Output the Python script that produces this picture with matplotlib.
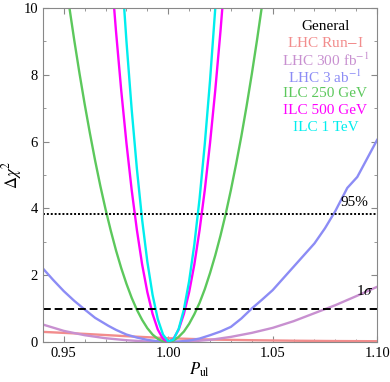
import matplotlib
matplotlib.use("Agg")
import matplotlib.pyplot as plt
from matplotlib.ticker import MultipleLocator

plt.rcParams['font.family'] = ['Liberation Serif', 'DejaVu Serif']
plt.rcParams['mathtext.fontset'] = 'stix'

# ---- data ----
run1_x = [0.94, 0.96, 0.98, 1.00, 1.02, 1.04, 1.06, 1.08, 1.10]
run1_y = [0.30, 0.24, 0.17, 0.11, 0.07, 0.05, 0.035, 0.025, 0.02]

lhc300_x = [0.94, 0.95, 0.96, 0.97, 0.98, 0.99, 1.00, 1.01, 1.02, 1.03, 1.04, 1.05, 1.06, 1.07, 1.08, 1.09, 1.10]
lhc300_y = [0.52, 0.33, 0.20, 0.11, 0.05, 0.01, 0.0, 0.01, 0.06, 0.15, 0.27, 0.42, 0.62, 0.86, 1.10, 1.37, 1.65]

lhc3_x = [0.94, 0.945, 0.95, 0.955, 0.96, 0.965, 0.9714, 0.975, 0.98, 0.985, 0.99, 0.995, 1.00,
          1.005, 1.01, 1.015, 1.02, 1.025, 1.03, 1.035, 1.04, 1.045, 1.05, 1.055, 1.06,
          1.065, 1.07, 1.075, 1.08, 1.0857, 1.0905, 1.10]
lhc3_y = [2.20, 1.85, 1.52, 1.23, 0.97, 0.72, 0.48, 0.36, 0.22, 0.13, 0.06, 0.02, 0.0,
          0.01, 0.04, 0.10, 0.20, 0.31, 0.45, 0.70, 1.00, 1.27, 1.55, 1.90, 2.25,
          2.60, 2.95, 3.40, 3.92, 4.61, 4.94, 6.05]

ilc250_x = [0.95, 0.9525, 0.955, 0.9575, 0.96, 0.9625, 0.965, 0.9675, 0.97, 0.9725, 0.975,
            0.9775, 0.98, 0.9825, 0.985, 0.9875, 0.99, 0.9925, 0.995, 0.9975, 1.0,
            1.0025, 1.005, 1.0075, 1.01, 1.0125, 1.015, 1.0175, 1.02, 1.0225, 1.025,
            1.0275, 1.03, 1.0325, 1.035, 1.0375, 1.04, 1.0425, 1.045, 1.0475, 1.05]
ilc250_y = [11.19, 10.09, 9.04, 8.05, 7.12, 6.25, 5.43, 4.67, 3.97, 3.33, 2.74,
            2.21, 1.74, 1.32, 0.96, 0.66, 0.41, 0.22, 0.09, 0.02, 0.0,
            0.04, 0.15, 0.31, 0.54, 0.83, 1.17, 1.58, 2.06, 2.59, 3.18,
            3.83, 4.55, 5.33, 6.16, 7.06, 8.02, 9.04, 10.12, 11.27, 12.47]

ilc500_x = [0.9725, 0.975, 0.9775, 0.98, 0.9825, 0.985, 0.9875, 0.99, 0.9925, 0.995, 0.9975, 1.0,
            1.0025, 1.005, 1.0075, 1.01, 1.0125, 1.015, 1.0175, 1.02, 1.0225, 1.025, 1.0275]
ilc500_y = [11.25, 9.30, 7.53, 5.95, 4.55, 3.35, 2.32, 1.49, 0.84, 0.37, 0.09, 0.0,
            0.09, 0.37, 0.84, 1.49, 2.32, 3.35, 4.55, 5.95, 7.53, 9.30, 11.25]

ilc1t_x = [0.9775, 0.98, 0.9825, 0.985, 0.9875, 0.99, 0.9925, 0.995, 0.9975, 1.0,
           1.0025, 1.005, 1.0075, 1.01, 1.0125, 1.015, 1.0175, 1.02, 1.0225, 1.025]
ilc1t_y = [11.30, 9.00, 6.96, 5.18, 3.66, 2.40, 1.41, 0.68, 0.22, 0.01,
           0.07, 0.39, 0.97, 1.82, 2.92, 4.29, 5.93, 7.82, 9.98, 12.40]

labels = ["LHC Run$-$I", "LHC 300 fb$^{-1}$", "LHC 3 ab$^{-1}$",
          "ILC 250 GeV", "ILC 500 GeV", "ILC 1 TeV"]
colors = ["#F28C8C", "#C890D0", "#8C8CF5", "#5CC85C", "#FF00FF", "#00EEEE"]

one_sigma = 1.0
cl95 = 3.84

# ---- figure ----
fig = plt.figure(figsize=(3.90, 3.82), dpi=100)
ax = fig.add_axes([0.110, 0.105, 0.857, 0.874])

series = [(run1_x, run1_y), (lhc300_x, lhc300_y), (lhc3_x, lhc3_y),
          (ilc250_x, ilc250_y), (ilc500_x, ilc500_y), (ilc1t_x, ilc1t_y)]
for (xs, ys), c in zip(series, colors):
    ax.plot(xs, ys, color=c, lw=1.7)

ax.axhline(cl95, color='black', lw=1.4, ls=(0, (1.0, 1.0)))
ax.axhline(one_sigma, color='black', lw=1.4, ls=(0, (4, 2)))

ax.set_xlim(0.94, 1.10)
ax.set_ylim(0, 10)
ax.xaxis.set_major_locator(MultipleLocator(0.05))
ax.xaxis.set_minor_locator(MultipleLocator(0.01))
ax.yaxis.set_major_locator(MultipleLocator(2))
ax.yaxis.set_minor_locator(MultipleLocator(1))
ax.set_xticks([0.95, 1.00, 1.05, 1.10])
ax.set_xticklabels(["0.95", "1.00", "1.05", "1.10"])
ax.tick_params(which='both', direction='in', top=True, right=True,
               color='#888888', labelsize=10.5)
ax.tick_params(which='major', length=4)
ax.tick_params(which='minor', length=2)
for s in ax.spines.values():
    s.set_color('#888888')
    s.set_linewidth(0.8)

ax.set_xlabel(r"$P_{\rm ul}$", fontsize=12)
ax.xaxis.set_label_coords(0.47, -0.055)
ax.set_ylabel(r"$\Delta\chi^2$", fontsize=12)
ax.yaxis.set_label_coords(-0.056, 0.5)

# legend as text block
ax.text(0.845, 0.945, "General", transform=ax.transAxes, ha='center', va='center',
        fontsize=11, color='black')
for i, (lab, c) in enumerate(zip(labels, colors)):
    ax.text(0.845, 0.945 - (i + 1) * 0.0505, lab, transform=ax.transAxes,
            ha='center', va='center', fontsize=11, color=c)

ax.text(1.089, 3.97, "95%", fontsize=11, ha='center', va='bottom')
ax.text(1.094, 1.3, r"1$\sigma$", fontsize=11, ha='center', va='bottom')

fig.savefig("out.png", dpi=100)
